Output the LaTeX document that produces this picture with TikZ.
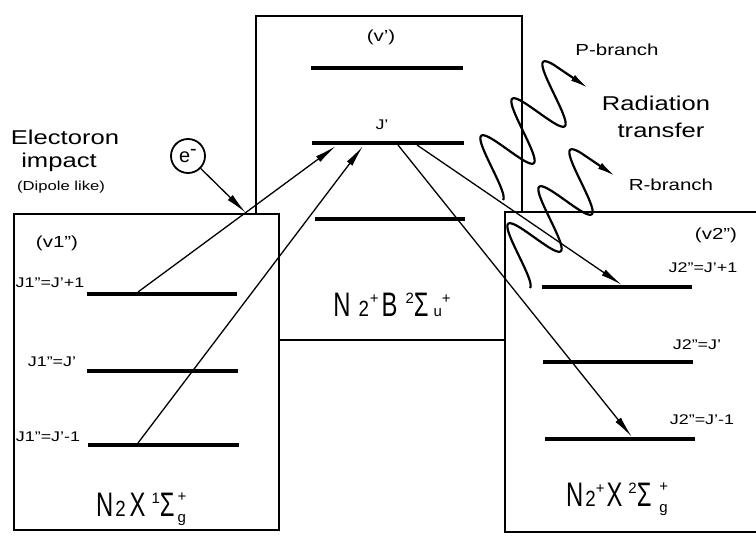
\documentclass[tikz,border=0pt]{standalone}
\usepackage{fontspec}
\setmainfont{Liberation Sans}
\usetikzlibrary{arrows.meta}
\newcommand{\hstr}[1]{\scalebox{1.28}[1]{#1}}
\newcommand{\BG}[1]{\scalebox{0.7}[1]{\fontsize{34}{34}\selectfont #1}}
\newcommand{\MD}[1]{\scalebox{0.85}[1]{\fontsize{22}{22}\selectfont #1}}
\newcommand{\SM}[1]{{\fontsize{15}{15}\selectfont #1}}
\newcommand{\UP}[1]{\raisebox{13pt}{\SM{#1}}}
\newcommand{\SUPSUB}[2]{\rlap{\raisebox{15pt}{\SM{#1}}}\raisebox{-6pt}{\SM{#2}}}
\begin{document}
\begin{tikzpicture}[x=1pt,y=-1pt,
  box/.style={draw=black,line width=1.8pt,fill=white},
  lev/.style={line width=4.5pt},
  arr/.style={line width=1.3pt,-{Latex[length=22pt,width=7pt]}},
  wav/.style={line width=2.2pt,-{Latex[length=18pt,width=7pt]}},
  lbl/.style={inner sep=0pt,font=\fontsize{14}{14}\selectfont},
  big/.style={inner sep=0pt,font=\fontsize{20}{20}\selectfont},
  mid/.style={inner sep=0pt,font=\fontsize{16}{16}\selectfont},
  term/.style={inner sep=0pt,anchor=base}]
\useasboundingbox (0,0) rectangle (756,537);
\clip (0,0) rectangle (756,537);
% boxes
\draw[box] (256,16) rectangle (522,340);
\draw[box] (14,214) rectangle (279,530);
\draw[box] (505,212) rectangle (770,532);
% levels
\draw[lev] (87,294) -- (237,294);
\draw[lev] (87,371) -- (238,371);
\draw[lev] (88,445) -- (239,445);
\draw[lev] (311,68) -- (463,68);
\draw[lev] (312,143) -- (464,143);
\draw[lev] (315,219) -- (465,219);
\draw[lev] (542,287) -- (692,287);
\draw[lev] (543,362) -- (693,362);
\draw[lev] (545,439) -- (695,439);
% coordinates
\coordinate (e1) at (246,213);
\coordinate (s1) at (138,292);
\coordinate (t1) at (336,146);
\coordinate (s2) at (138,443);
\coordinate (t2) at (363,146);
\coordinate (s3) at (417,145);
\coordinate (t3) at (622,285);
\coordinate (s4) at (398,145);
\coordinate (t4) at (632,437);
\coordinate (w1) at (588,88);
\coordinate (w2) at (615,176);
% electron
\node[circle,draw,line width=1.8pt,minimum size=34pt,inner sep=0pt,font=\fontsize{20}{20}\selectfont] (el) at (188,156) {e\raisebox{7pt}{-}};
\draw[arr] (el) -- (e1);
% transitions
\draw[arr] (s1) -- (t1);
\draw[arr] (s2) -- (t2);
\draw[arr] (s3) -- (t3);
\draw[arr] (s4) -- (t4);
% waves
\draw[wav] plot[domain=-90:860,samples=140,smooth,variable=\t] ({492+\t/360*31-18.75*sin(\t)},{168-\t/360*37-22.75*sin(\t)}) -- (w1);
\draw[wav] plot[domain=-90:860,samples=140,smooth,variable=\t] ({519+\t/360*31-18.75*sin(\t)},{256-\t/360*37-22.75*sin(\t)}) -- (w2);
% texts left
\node[big] (tE) at (65,137) {\hstr{Electoron}};
\node[big] (tI) at (59,162) {\hstr{impact}};
\node[inner sep=0pt,font=\fontsize{13}{13}\selectfont] (tD) at (61,187) {\hstr{(Dipole like)}};
\node[mid] (v1) at (57,243) {\hstr{(v1")}};
\node[lbl] (l1) at (50,283) {\hstr{J1"=J'+1}};
\node[lbl] (l2) at (52,362) {\hstr{J1"=J'}};
\node[lbl] (l3) at (48,437) {\hstr{J1"=J'-1}};
\node[term] (T1) at (141,517) {\BG{N}\hspace{2pt}\MD{2}\hspace{4pt}\BG{X}\hspace{6pt}\UP{1}\BG{Σ}\hspace{3pt}\SUPSUB{+}{g}};
% texts center
\node[mid] (vp) at (381,37) {\hstr{(v')}};
\node[lbl] (jp) at (382,125) {\hstr{J'}};
\node[term] (T2) at (392,317) {\BG{N}\hspace{8pt}\MD{2}\hspace{1pt}\UP{+}\hspace{3pt}\BG{B}\hspace{8pt}\UP{2}\BG{Σ}\hspace{5pt}\SM{u}\UP{+}};
% texts right
\node[mid] (pb) at (617,50) {\hstr{P-branch}};
\node[big] (rd) at (656,103) {\hstr{Radiation}};
\node[big] (tr) at (661,130) {\hstr{transfer}};
\node[mid] (rb) at (671,185) {\hstr{R-branch}};
\node[mid] (v2) at (716,235) {\hstr{(v2")}};
\node[lbl] (r1) at (703,268) {\hstr{J2"=J'+1}};
\node[lbl] (r2) at (697,345) {\hstr{J2"=J'}};
\node[lbl] (r3) at (702,420) {\hstr{J2"=J'-1}};
\node[term] (T3) at (617,507) {\BG{N}\hspace{2pt}\MD{2}\UP{+}\hspace{2pt}\BG{X}\hspace{6pt}\UP{2}\BG{Σ}\hspace{8pt}\SUPSUB{+}{g}};
\end{tikzpicture}
\end{document}
